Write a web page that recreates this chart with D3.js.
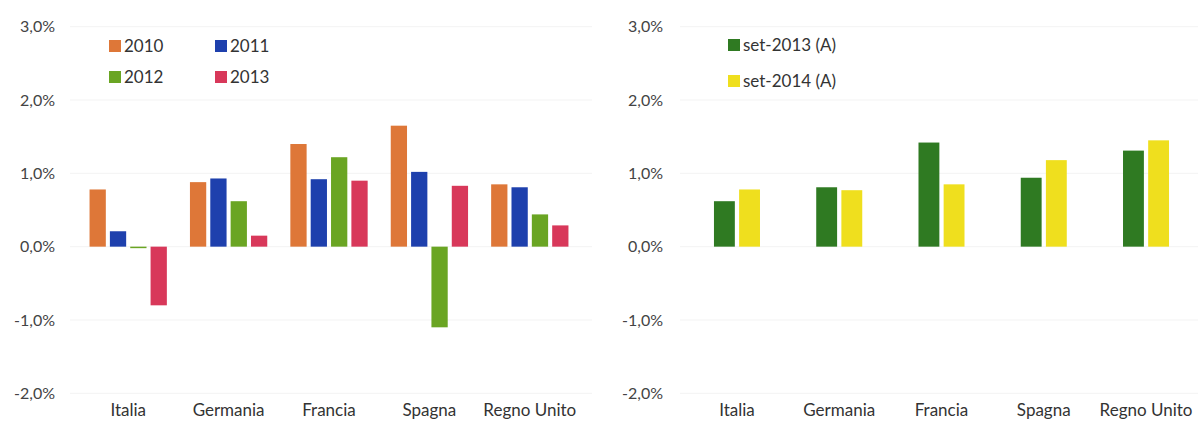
<!DOCTYPE html>
<html>
<head>
<meta charset="utf-8">
<script src="https://cdn.jsdelivr.net/npm/d3@7"></script>
<style>
  html, body { margin: 0; padding: 0; background: #fff; }
  svg { display: block; font-family: Lato, "Open Sans", "DejaVu Sans", sans-serif; }
</style>
</head>
<body>
<svg id="chart" width="1198" height="421"></svg>
<script>
// Countries shown on both panels
const countries = ["Italia", "Germania", "Francia", "Spagna", "Regno Unito"];

// Left panel: yearly values (%)
const yearSeries = ["2010", "2011", "2012", "2013"];
const v2010 = [0.78, 0.88, 1.40, 1.65, 0.85];
const v2011 = [0.21, 0.93, 0.92, 1.02, 0.81];
const v2012 = [-0.02, 0.62, 1.22, -1.10, 0.44];
const v2013 = [-0.80, 0.15, 0.90, 0.83, 0.29];

// Right panel: September values (%)
const monthSeries = ["set-2013 (A)", "set-2014 (A)"];
const vSet2013 = [0.62, 0.81, 1.42, 0.94, 1.31];
const vSet2014 = [0.78, 0.77, 0.85, 1.18, 1.45];

// Shared y ticks
const yTicks = [3, 2, 1, 0, -1, -2];

const svg = d3.select("#chart");
const fmt = v => v.toFixed(1).replace(".", ",") + "%";

const y = d3.scaleLinear().domain([-2, 3]).range([393.3, 26.7]);

function panel(opts) {
  const g = svg.append("g");

  // very light horizontal grid
  g.selectAll("line.grid").data(yTicks).join("line")
    .attr("class", "grid")
    .attr("x1", opts.gridX[0]).attr("x2", opts.gridX[1])
    .attr("y1", d => y(d)).attr("y2", d => y(d))
    .attr("stroke", "#f3f3f3").attr("stroke-width", 1);

  // y tick labels
  g.selectAll("text.ytick").data(yTicks).join("text")
    .attr("class", "ytick")
    .attr("x", opts.labelX)
    .attr("y", d => y(d))
    .attr("dy", "0.35em")
    .attr("text-anchor", "end")
    .attr("font-size", 16)
    .attr("fill", "#444")
    .text(fmt);

  const x0 = d3.scaleBand().domain(countries).range(opts.xRange)
    .paddingInner(opts.padInner).paddingOuter(opts.padOuter);
  const x1 = d3.scaleBand().domain(opts.series).range([0, x0.bandwidth()])
    .paddingInner(opts.barPad);

  const rows = countries.map((c, i) => ({
    country: c,
    values: opts.series.map((s, k) => ({ key: s, value: opts.values[k][i] }))
  }));

  const groups = g.selectAll("g.grp").data(rows).join("g")
    .attr("class", "grp")
    .attr("transform", d => `translate(${x0(d.country)},0)`);

  groups.selectAll("rect").data(d => d.values).join("rect")
    .attr("x", d => x1(d.key))
    .attr("width", x1.bandwidth())
    .attr("y", d => Math.min(y(d.value), y(0)))
    .attr("height", d => Math.max(1.5, Math.abs(y(d.value) - y(0))))
    .attr("fill", (d, k) => opts.colors[k]);

  // category labels
  g.selectAll("text.cat").data(countries).join("text")
    .attr("class", "cat")
    .attr("x", d => x0(d) + x0.bandwidth() / 2)
    .attr("y", 410)
    .attr("dy", "0.35em")
    .attr("text-anchor", "middle")
    .attr("font-size", 17)
    .attr("fill", "#333")
    .text(d => d);

  // legend
  const lg = g.selectAll("g.leg").data(opts.series).join("g")
    .attr("class", "leg")
    .attr("transform", (d, k) => `translate(${opts.legendPos[k][0]},${opts.legendPos[k][1]})`);
  lg.append("rect")
    .attr("x", 0).attr("y", -6).attr("width", 12).attr("height", 12)
    .attr("fill", (d, k) => opts.colors[k]);
  lg.append("text")
    .attr("x", 15).attr("y", 0).attr("dy", "0.35em")
    .attr("font-size", 17)
    .attr("fill", "#333")
    .text(d => d);
}

panel({
  series: yearSeries,
  values: [v2010, v2011, v2012, v2013],
  colors: ["#de7738", "#1e40ad", "#6aa523", "#d8385a"],
  xRange: [78, 580],
  padInner: 0.23, padOuter: 0.115, barPad: 0.2,
  gridX: [70, 592],
  labelX: 55,
  legendPos: [[109, 46], [215, 46], [109, 77], [215, 77]]
});

panel({
  series: monthSeries,
  values: [vSet2013, vSet2014],
  colors: ["#2f7a22", "#efdf1e"],
  xRange: [688.4, 1194.6],
  padInner: 0.55, padOuter: 0.25, barPad: 0.17,
  gridX: [680, 1198],
  labelX: 663,
  legendPos: [[728, 45], [728, 81]]
});
</script>
</body>
</html>
